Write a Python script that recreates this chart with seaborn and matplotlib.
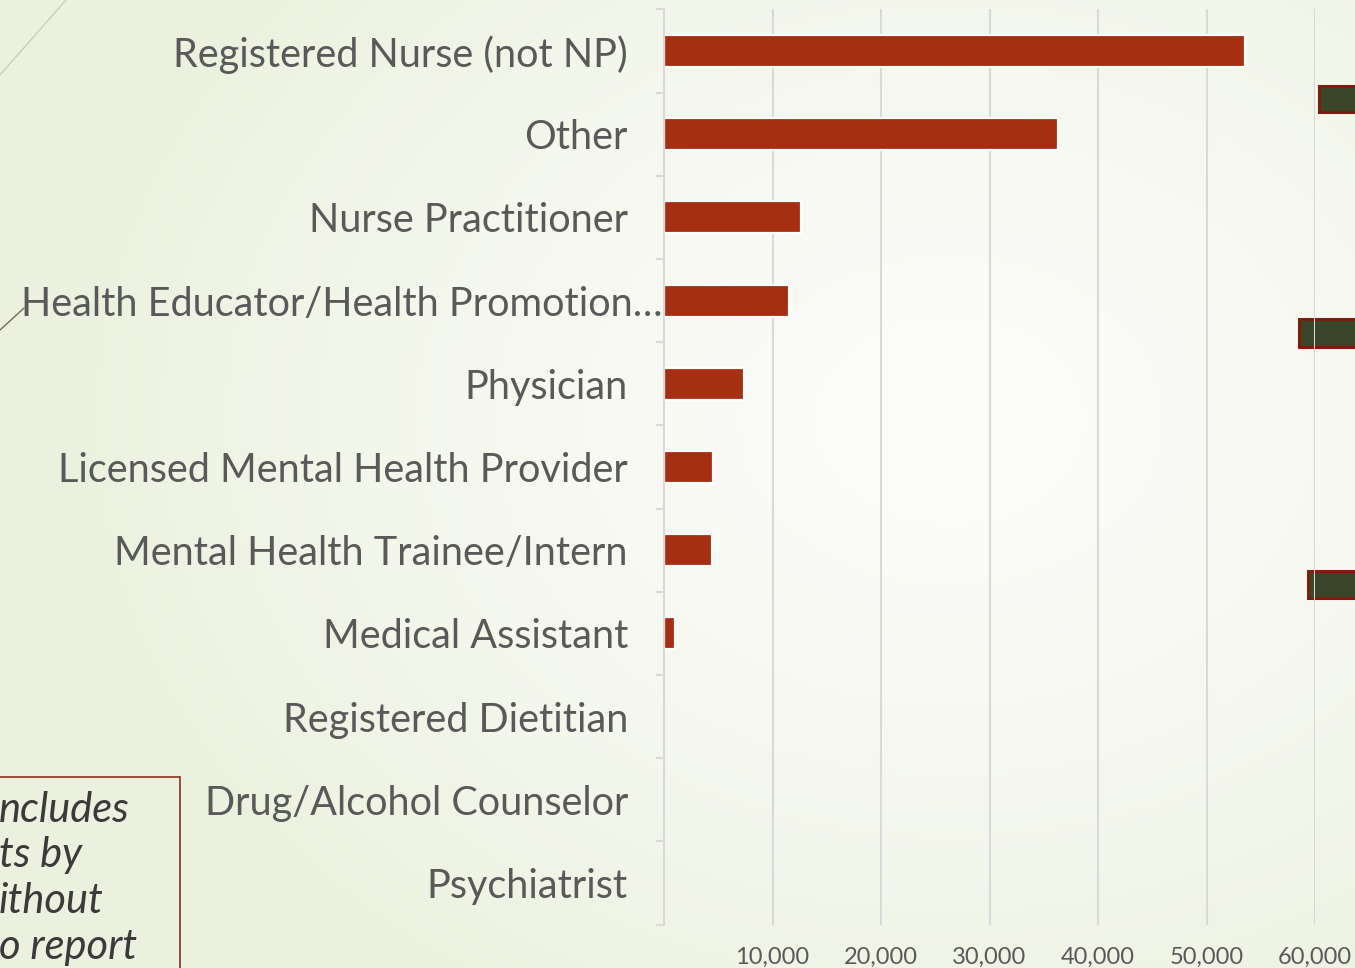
import numpy as np
import matplotlib
matplotlib.use("Agg")
import matplotlib.pyplot as plt
import matplotlib.transforms as mtransforms
from matplotlib.patches import Rectangle
from matplotlib.lines import Line2D
import seaborn as sns

# Visits by provider type
categories = [
    "Registered Nurse (not NP)",
    "Other",
    "Nurse Practitioner",
    "Health Educator/Health Promotion\u2026",
    "Physician",
    "Licensed Mental Health Provider",
    "Mental Health Trainee/Intern",
    "Medical Assistant",
    "Registered Dietitian",
    "Drug/Alcohol Counselor",
    "Psychiatrist",
]
visits = [53550, 36300, 12600, 11500, 7400, 4500, 4400, 1050, 0, 0, 0]
x_ticks = [10000, 20000, 30000, 40000, 50000, 60000]
x_tick_labels = ["10,000", "20,000", "30,000", "40,000", "50,000", "60,000"]
note_lines = ["ncludes", "ts by", "ithout", "o report"]

sns.set_theme(style="white")
plt.rcParams["font.family"] = ["Lato", "DejaVu Sans"]

W, H = 1355, 968
fig = plt.figure(figsize=(W / 100, H / 100), dpi=100)

# soft radial background
bg = fig.add_axes([0, 0, 1, 1])
yy, xx = np.mgrid[0:H, 0:W]
r = np.sqrt(((xx - 950) / 900.0) ** 2 + ((yy - 420) / 700.0) ** 2)
t = np.clip(r, 0, 1) ** 1.5
c_in = np.array([252, 252, 249]) / 255.0
c_out = np.array([235, 241, 222]) / 255.0
img = c_in[None, None, :] * (1 - t[..., None]) + c_out[None, None, :] * t[..., None]
bg.imshow(img, extent=[0, W, H, 0], aspect="auto", zorder=0)
bg.set_xlim(0, W)
bg.set_ylim(H, 0)
bg.axis("off")

# slide decorations
bg.add_line(Line2D([0, 66], [75, 0], color="#c9d0b8", lw=1.0))
bg.add_line(Line2D([0, 24], [330, 308], color="#7a6a55", lw=1.0))
for (x0, y0, w, h) in [(1319, 86, 50, 26), (1299, 319, 70, 28), (1308, 571, 60, 27)]:
    bg.add_patch(Rectangle((x0, y0), w, h, facecolor="#3b452a", edgecolor="#7a1f0e", lw=2.2))
bg.add_patch(Rectangle((-10, 777), 190, 210, facecolor="none", edgecolor="#8b2e1a", lw=1.2))
for i, s in enumerate(note_lines):
    bg.text(-1, 810 + i * 45.5, s, fontsize=30, style="italic", color="#3a3a3a",
            ha="left", va="center")

# chart
x0px, x60px = 664, 1315
top_px, bot_px = 9.4, 924.6
ax = fig.add_axes([x0px / W, 1 - bot_px / H, (x60px - x0px) / W, (bot_px - top_px) / H])
ax.patch.set_alpha(0)

sns.barplot(x=visits, y=categories, orient="h", color="#a52f10", saturation=1,
            width=0.385, edgecolor="white", linewidth=1.6, ax=ax)
for p in ax.patches:
    if p.get_width() == 0:
        p.set_visible(False)

ax.set_xlim(0, 60000)
ax.set_ylim(len(categories) - 0.5, -0.5)
ax.set_xticks(x_ticks)
ax.set_xticklabels(x_tick_labels)
ax.grid(axis="x", color="#d9d9d9", lw=1.5)
ax.set_axisbelow(True)
for side in ["top", "right", "bottom"]:
    ax.spines[side].set_visible(False)
ax.spines["left"].set_color("#d9d9d9")
ax.spines["left"].set_linewidth(1.5)

ax.tick_params(axis="x", length=0, pad=16, labelsize=17, labelcolor="#595959")
ax.tick_params(axis="y", which="major", length=0, pad=26, labelsize=28.5, labelcolor="#595959")
ax.set_yticks(np.arange(-0.5, len(categories), 1.0), minor=True)
ax.tick_params(axis="y", which="minor", length=6, width=1.5, color="#d9d9d9", left=True)
ax.set_xlabel("")
ax.set_ylabel("")

# the truncated label runs right up to the axis
lbl = ax.get_yticklabels()[3]
lbl.set_transform(lbl.get_transform() +
                  mtransforms.ScaledTranslation(0.35, 0, fig.dpi_scale_trans))

fig.savefig("out.png", dpi=100)
